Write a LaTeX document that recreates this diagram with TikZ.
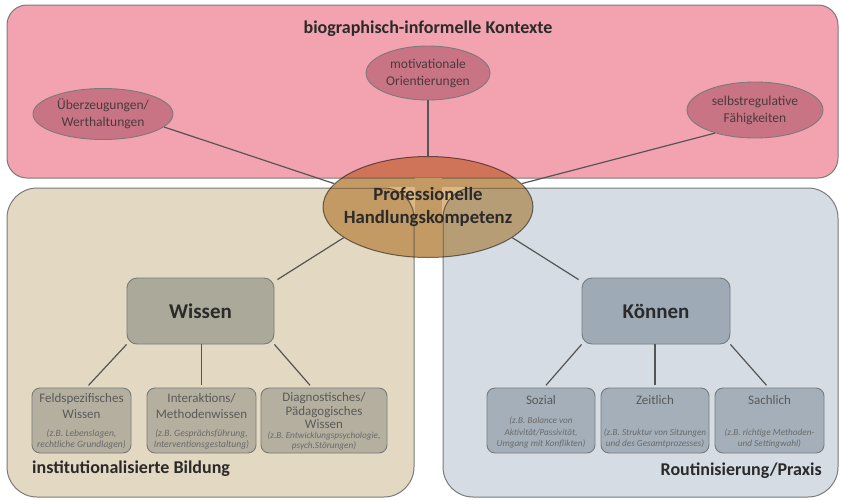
\documentclass[tikz,border=0pt]{standalone}
\usepackage{fontspec}
\setmainfont{Carlito}
\usetikzlibrary{shapes.geometric}
\definecolor{pinkbg}{HTML}{F2A3AF}
\definecolor{beigebg}{HTML}{E3D8C1}
\definecolor{bluebg}{HTML}{D5DCE4}
\definecolor{ellpink}{HTML}{C97484}
\definecolor{maincol}{HTML}{DCB683}
\definecolor{wissencol}{HTML}{ABA999}
\definecolor{koencol}{HTML}{9EABB7}
\definecolor{lboxcol}{HTML}{B4AF9F}
\definecolor{rboxcol}{HTML}{A4AFB9}
\definecolor{bordercol}{HTML}{7A7A7A}
\definecolor{linecol}{HTML}{555555}
\definecolor{boxtext}{HTML}{5A5A5A}
\definecolor{subtext}{HTML}{6A6A6A}
\definecolor{darktext}{HTML}{2A2A2A}
\definecolor{elltext}{HTML}{4A3A3D}
\begin{document}
\begin{tikzpicture}[x=1pt,y=-1pt,
  panel/.style={draw=bordercol, line width=1pt, rectangle, inner sep=0pt},
  smallell/.style={ellipse, draw=bordercol, line width=0.9pt, fill=ellpink, inner sep=0pt,
    text=elltext, font=\fontsize{13.5}{17}\selectfont, align=center},
  bigbox/.style={rectangle, rounded corners=10pt, draw=bordercol, line width=0.9pt,
    minimum height=66pt, inner sep=0pt, text=darktext, font=\fontsize{21}{24}\selectfont\bfseries},
  subbox/.style={rectangle, rounded corners=8pt, draw=bordercol, line width=0.9pt,
    minimum height=65pt, inner sep=0pt},
  boxtitle/.style={anchor=north, inner sep=0pt, text=boxtext, align=center,
    font=\fontsize{13}{15.5}\selectfont},
  boxsub/.style={anchor=south, inner sep=0pt, text=subtext, align=center,
    font=\fontsize{9.6}{11}\selectfont\itshape},
  rsub/.style={boxsub, font=\fontsize{9.2}{11.5}\selectfont\itshape},
  conn/.style={draw=linecol, line width=1.2pt},
  paneltitle/.style={inner sep=0pt, text=darktext, font=\fontsize{18}{20}\selectfont\bfseries}
]
\useasboundingbox (0,0) rectangle (841,499);
\fill[white] (0,0) rectangle (841,499);

% panels
\node[panel, fill=pinkbg, rounded corners=20pt, minimum width=831pt, minimum height=173pt] (bio) at (422.5,91.5) {};
\node[panel, fill=beigebg, rounded corners=30pt, minimum width=407pt, minimum height=309pt] (inst) at (210.5,342.5) {};
\node[panel, fill=bluebg, rounded corners=30pt, minimum width=395pt, minimum height=309pt] (rout) at (640.5,342.5) {};

% gaps under the central ellipse
\begin{scope}
  \clip (428,207) ellipse [x radius=104.5, y radius=50];
  \fill[beigebg] (300,178.6) rectangle (560,187.4);
  \fill[beigebg] (414.6,178) rectangle (442.4,262);
\end{scope}

\node[paneltitle] (biot) at (428,29) {biographisch-informelle Kontexte};
\node[paneltitle, anchor=west] (instt) at (32,469) {institutionalisierte Bildung};
\node[paneltitle, anchor=east] (routt) at (822,471) {Routinisierung/Praxis};

% small ellipses
\node[smallell, minimum width=140pt, minimum height=51pt] (ueb) at (103,114) {Überzeugungen/\\Werthaltungen};
\node[smallell, minimum width=124pt, minimum height=54pt] (mot) at (428,73) {motivationale\\Orientierungen};
\node[smallell, minimum width=136pt, minimum height=56pt] (selbst) at (755,110) {selbstregulative\\Fähigkeiten};

% main ellipse
\node[ellipse, draw=bordercol, line width=1pt, fill=maincol, blend mode=multiply,
  minimum width=210pt, minimum height=101pt, inner sep=0pt] (main) at (428,207) {};
\node[inner sep=0pt, align=center, text=darktext, font=\fontsize{18.7}{23}\selectfont\bfseries] (maint) at (428,207) {Professionelle\\Handlungskompetenz};

% connectors top
\draw[conn] (ueb.-12) -- (main.166);
\draw[conn] (mot.south) -- (main.north);
\draw[conn] (selbst.-150) -- (main.14);

% Wissen / Koennen
\node[bigbox, fill=wissencol, minimum width=147pt] (wissen) at (200.5,311) {Wissen};
\node[bigbox, fill=koencol, minimum width=148pt] (koennen) at (656,311) {Können};
\draw[conn] (main.200) -- ([xshift=3pt,yshift=-2pt]wissen.north east);
\draw[conn] (main.-20) -- ([xshift=-3pt,yshift=-2pt]koennen.north west);

% sub boxes left
\node[subbox, fill=lboxcol, minimum width=99pt] (b1) at (81.5,420.5) {};
\node[subbox, fill=lboxcol, minimum width=109pt] (b2) at (201.5,420.5) {};
\node[subbox, fill=lboxcol, minimum width=126pt] (b3) at (324,420.5) {};
\node[boxtitle] (b1t) at ([yshift=-6pt]b1.north) {Feldspezifisches\\Wissen};
\node[boxsub] (b1s) at ([yshift=4pt]b1.south) {(z.B. Lebenslagen,\\rechtliche Grundlagen)};
\node[boxtitle] (b2t) at ([yshift=-6pt]b2.north) {Interaktions/\\Methodenwissen};
\node[boxsub] (b2s) at ([yshift=4pt]b2.south) {(z.B. Gesprächsführung,\\Interventionsgestaltung)};
\node[boxtitle, font=\fontsize{13}{13.5}\selectfont] (b3t) at ([yshift=-5pt]b3.north) {Diagnostisches/\\Pädagogisches\\Wissen};
\node[boxsub, font=\fontsize{9.2}{10.5}\selectfont\itshape] (b3s) at ([yshift=3pt]b3.south) {(z.B. Entwicklungspsychologie,\\psych.Störungen)};

\draw[conn, shorten >=3pt] (wissen.south west) -- ([xshift=5pt]b1.north);
\draw[conn, shorten >=3pt] (wissen.south -| b2.north) -- (b2.north);
\draw[conn, shorten >=3pt] (wissen.south east) -- ([xshift=-12pt]b3.north);

% sub boxes right
\node[subbox, fill=rboxcol, minimum width=108pt] (s1) at (541,420.5) {};
\node[subbox, fill=rboxcol, minimum width=108pt] (s2) at (655,420.5) {};
\node[subbox, fill=rboxcol, minimum width=109pt] (s3) at (769.5,420.5) {};
\node[boxtitle] (s1t) at ([yshift=-8pt]s1.north) {Sozial};
\node[rsub] (s1s) at ([yshift=5pt]s1.south) {(z.B. Balance von\\Aktivität/Passivität,\\Umgang mit Konflikten)};
\node[boxtitle] (s2t) at ([yshift=-8pt]s2.north) {Zeitlich};
\node[rsub] (s2s) at ([yshift=5pt]s2.south) {(z.B. Struktur von Sitzungen\\und des Gesamtprozesses)};
\node[boxtitle] (s3t) at ([yshift=-8pt]s3.north) {Sachlich};
\node[rsub] (s3s) at ([yshift=5pt]s3.south) {(z.B. richtige Methoden-\\und Settingwahl)};

\draw[conn, shorten >=3pt] (koennen.south west) -- ([xshift=3pt]s1.north);
\draw[conn, shorten >=3pt] (koennen.south -| s2.north) -- (s2.north);
\draw[conn, shorten >=3pt] (koennen.south east) -- ([xshift=-1pt]s3.north);
\end{tikzpicture}
\end{document}
